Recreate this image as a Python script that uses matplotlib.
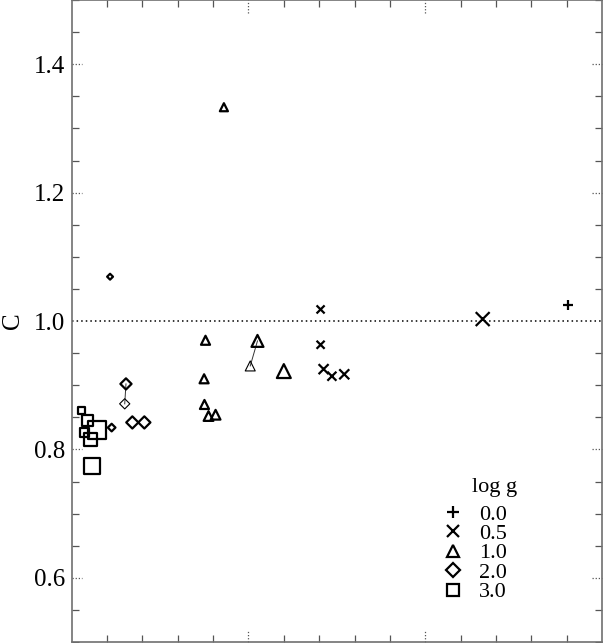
import numpy as np
import matplotlib
matplotlib.use('Agg')
import matplotlib.pyplot as plt
from matplotlib.lines import Line2D
from matplotlib.ticker import MultipleLocator, NullFormatter

plt.rcParams['font.family'] = ['Liberation Serif', 'DejaVu Serif']

# log g = 0.0  (+)
g00_x = [2.806]
g00_c = [1.0245]
g00_size = [7.2]

# log g = 0.5  (x)
g05_x = [1.408, 2.325, 1.408, 1.425, 1.472, 1.542]
g05_c = [1.018, 1.003, 0.963, 0.925, 0.914, 0.917]
g05_size = [5.8, 10.0, 5.8, 7.2, 6.5, 7.2]

# log g = 1.0  (triangles)
g10_x = [0.861, 0.757, 1.051, 1.200, 0.749, 0.751, 0.774, 0.814]
g10_c = [1.333, 0.970, 0.969, 0.922, 0.910, 0.870, 0.852, 0.854]
g10_size = [5.8, 6.5, 8.6, 10.0, 6.5, 6.5, 7.0, 7.0]

# log g = 2.0  (diamonds)
g20_x = [0.217, 0.307, 0.226, 0.343, 0.411]
g20_c = [1.069, 0.902, 0.834, 0.842, 0.842]
g20_size = [3.0, 5.7, 3.9, 6.2, 6.2]

# log g = 3.0  (squares)
g30_x = [0.057, 0.091, 0.143, 0.072, 0.106, 0.117]
g30_c = [0.860, 0.845, 0.830, 0.827, 0.816, 0.774]
g30_size = [5.0, 8.0, 13.0, 6.5, 9.4, 11.5]

# alternative values (thin markers) joined to their star
alt_tri = (1.010, 0.930, 7.2, 1.051, 0.969)
alt_dia = (0.300, 0.871, 5.2, 0.307, 0.902)

legend_labels = ['0.0', '0.5', '1.0', '2.0', '3.0']
legend_markers = ['+', 'x', '^', 'D', 's']

fig = plt.figure(figsize=(6.03, 6.43), dpi=100)
ax = fig.add_axes([71.7 / 603, 1 / 643, 530.3 / 603, 642 / 643])
ax.set_xlim(0, 3)
ax.set_ylim(0.5, 1.5)

ax.axhline(1.0, color='k', lw=1.1, ls=(0, (1, 2)))

# connecting lines for alternative values
for xa, ya, sa, xb, yb in [alt_tri, alt_dia]:
    ax.plot([xa, xb], [ya, yb], color='#333333', lw=0.7, zorder=2)

lw = 1.6
ax.scatter(g00_x, g00_c, s=np.array(g00_size) ** 2, marker='+', c='k', linewidths=lw, zorder=3)
ax.scatter(g05_x, g05_c, s=np.array(g05_size) ** 2, marker='x', c='k', linewidths=lw, zorder=3)
ax.scatter(g10_x, g10_c, s=np.array(g10_size) ** 2, marker='^', facecolors='none',
           edgecolors='k', linewidths=lw, zorder=3)
ax.scatter(g20_x, g20_c, s=np.array(g20_size) ** 2, marker='D', facecolors='none',
           edgecolors='k', linewidths=lw, zorder=3)
ax.scatter(g30_x, g30_c, s=np.array(g30_size) ** 2, marker='s', facecolors='none',
           edgecolors='k', linewidths=lw, zorder=3)
ax.scatter([alt_tri[0]], [alt_tri[1]], s=alt_tri[2] ** 2, marker='^', facecolors='none',
           edgecolors='k', linewidths=0.8, zorder=3)
ax.scatter([alt_dia[0]], [alt_dia[1]], s=alt_dia[2] ** 2, marker='D', facecolors='none',
           edgecolors='k', linewidths=0.8, zorder=3)

# ticks: minor solid, major drawn as short dotted lines
ax.xaxis.set_major_locator(MultipleLocator(1))
ax.xaxis.set_minor_locator(MultipleLocator(0.2))
ax.yaxis.set_major_locator(MultipleLocator(0.2))
ax.yaxis.set_minor_locator(MultipleLocator(0.05))
ax.xaxis.set_major_formatter(NullFormatter())
ax.set_yticks([0.6, 0.8, 1.0, 1.2, 1.4])
ax.set_yticklabels(['0.6', '0.8', '1.0', '1.2', '1.4'])
ax.tick_params(which='major', length=0, pad=5, labelsize=18)
ax.tick_params(which='minor', direction='in', length=5, width=0.9, color='#555555',
               top=True, right=True)
for s in ax.spines.values():
    s.set_color('#707070')
    s.set_linewidth(1.2)

ytr = ax.get_yaxis_transform()
xtr = ax.get_xaxis_transform()
dot = dict(color='#555555', lw=0.9, ls=(0, (1, 1.5)), clip_on=False)
for yv in [0.6, 0.8, 1.2, 1.4]:
    ax.plot([0, 0.019], [yv, yv], transform=ytr, **dot)
    ax.plot([0.981, 1], [yv, yv], transform=ytr, **dot)
for xv in [1, 2]:
    ax.plot([xv, xv], [0, 0.018], transform=xtr, **dot)
    ax.plot([xv, xv], [0.98, 1], transform=xtr, **dot)

ax.set_ylabel('C', fontsize=18, labelpad=7)

handles = [Line2D([], [], ls='none', marker=m, color='k', mfc='none', mew=1.6,
                  ms=(8 if m in '+x' else 7 if m == 'D' else 8.5))
           for m in legend_markers]
ax.legend(handles, legend_labels, loc='upper left', bbox_to_anchor=(0.6975, 0.215),
          frameon=False, fontsize=16, handlelength=1.0, handletextpad=0.7,
          labelspacing=-0.05, borderaxespad=0, borderpad=0)
ax.text(0.798, 0.240, 'log g', transform=ax.transAxes, fontsize=16,
        ha='center', va='center')

fig.savefig('out.png', dpi=100)
